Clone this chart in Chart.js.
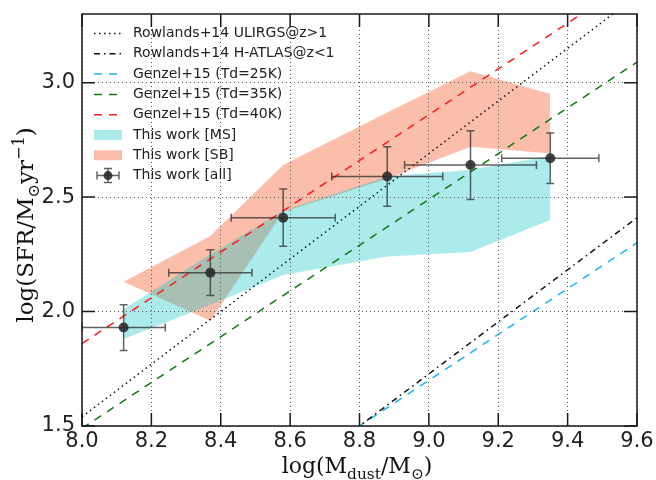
<!DOCTYPE html>
<html>
<head>
<meta charset="utf-8">
<script src="https://cdn.jsdelivr.net/npm/chart.js@4.4.1/dist/chart.umd.min.js"></script>
<style>
  html, body { margin: 0; padding: 0; background: #fff; }
  #wrap { width: 656px; height: 480px; }
</style>
</head>
<body>
<div id="wrap"><canvas id="c" width="656" height="480"></canvas></div>
<script>
// bins in log Mdust, used for the MS / SB bands
const binX    = [8.12, 8.37, 8.58, 8.88, 9.12, 9.35];
const msUpper = [2.01, 2.25, 2.44, 2.59, 2.62, 2.68];
const msLower = [1.88, 2.03, 2.16, 2.24, 2.26, 2.40];
const sbUpper = [2.13, 2.33, 2.64, 2.87, 3.05, 2.95];
const sbLower = [2.13, 1.96, 2.435, 2.58, 2.72, 2.69];

// this work [all] with errors
const allX    = [8.12, 8.37, 8.58, 8.88, 9.12, 9.35];
const allY    = [1.93, 2.17, 2.41, 2.59, 2.64, 2.67];
const allXerr = [0.12, 0.12, 0.15, 0.16, 0.19, 0.14];
const allYerr = [0.10, 0.10, 0.125, 0.13, 0.15, 0.11];

// literature relations, end points
const relX      = [8.0, 9.6];
const ulirgY    = [1.54, 3.38];
const hatlasY   = [0.59, 2.41];
const genzel25Y = [0.70, 2.30];
const genzel35Y = [1.49, 3.09];
const genzel40Y = [1.86, 3.46];

const xTicks = [8.0, 8.2, 8.4, 8.6, 8.8, 9.0, 9.2, 9.4, 9.6];
const yTicks = [1.5, 2.0, 2.5, 3.0];

const MS_FILL = 'rgba(0,195,195,0.33)';
const SB_FILL = 'rgba(240,58,0,0.33)';
const NONE = 'rgba(0,0,0,0)';

function pts(xs, ys) { return xs.map((x, i) => ({ x: x, y: ys[i] })); }

function band(label, ys, fill, color) {
  return { label: label, data: pts(binX, ys), fill: fill, backgroundColor: color,
           borderColor: NONE, borderWidth: 1, pointRadius: 0, tension: 0, order: 10 };
}
function rel(label, ys, color, dash) {
  return { label: label, data: pts(relX, ys), fill: false, borderColor: color,
           borderWidth: 1.5, borderDash: dash, pointRadius: 0, order: 5 };
}

const datasets = [
  band('MS upper', msUpper, '+1', MS_FILL),
  band('MS lower', msLower, false, NONE),
  band('SB upper', sbUpper, '+1', SB_FILL),
  band('SB lower', sbLower, false, NONE),
  rel('Rowlands+14 ULIRGS@z>1', ulirgY, '#111', [1.5, 3.5]),
  rel('Rowlands+14 H-ATLAS@z<1', hatlasY, '#111', [6, 4, 1.5, 4]),
  rel('Genzel+15 (Td=25K)', genzel25Y, '#19b5ee', [8, 7]),
  rel('Genzel+15 (Td=35K)', genzel35Y, '#0b7d0b', [8, 7]),
  rel('Genzel+15 (Td=40K)', genzel40Y, '#ff1a1a', [8, 7]),
  { label: 'This work [all]', type: 'scatter', data: pts(allX, allY), xErr: allXerr, yErr: allYerr,
    showLine: false, pointRadius: 5, pointBackgroundColor: 'rgba(35,35,35,0.85)',
    pointBorderWidth: 0, order: 0 }
];

const ERR_COLOR = 'rgba(45,45,45,0.75)';

const errorBars = {
  id: 'errorBars',
  afterDatasetsDraw(chart) {
    const ctx = chart.ctx, xs = chart.scales.x, ys = chart.scales.y;
    chart.data.datasets.forEach(ds => {
      if (!ds.xErr) return;
      ctx.save();
      ctx.strokeStyle = ERR_COLOR;
      ctx.lineWidth = 1.5;
      ds.data.forEach((p, i) => {
        const x0 = xs.getPixelForValue(p.x - ds.xErr[i]), x1 = xs.getPixelForValue(p.x + ds.xErr[i]);
        const y0 = ys.getPixelForValue(p.y - ds.yErr[i]), y1 = ys.getPixelForValue(p.y + ds.yErr[i]);
        const px = xs.getPixelForValue(p.x), py = ys.getPixelForValue(p.y);
        ctx.beginPath();
        ctx.moveTo(x0, py); ctx.lineTo(x1, py);
        ctx.moveTo(px, y0); ctx.lineTo(px, y1);
        ctx.moveTo(x0, py - 4); ctx.lineTo(x0, py + 4);
        ctx.moveTo(x1, py - 4); ctx.lineTo(x1, py + 4);
        ctx.moveTo(px - 4, y0); ctx.lineTo(px + 4, y0);
        ctx.moveTo(px - 4, y1); ctx.lineTo(px + 4, y1);
        ctx.stroke();
      });
      ctx.restore();
    });
  }
};

// text with sub/superscripts, drawn centred on (0,0) baseline
function mathText(ctx, parts, size) {
  const fam = '"DejaVu Serif", serif';
  let total = 0;
  parts.forEach(p => {
    ctx.font = (p.s ? size * 0.7 : size) + 'px ' + fam;
    p.w = ctx.measureText(p.t).width;
    total += p.w;
  });
  let x = -total / 2;
  parts.forEach(p => {
    ctx.font = (p.s ? size * 0.7 : size) + 'px ' + fam;
    const dy = p.s === 'sub' ? size * 0.25 : p.s === 'sup' ? -size * 0.4 : 0;
    ctx.fillText(p.t, x, dy);
    x += p.w;
  });
}

const frame = {
  id: 'frame',
  afterDraw(chart) {
    const ctx = chart.ctx, a = chart.chartArea, xs = chart.scales.x, ys = chart.scales.y;
    ctx.save();
    ctx.strokeStyle = '#1a1a1a';
    ctx.lineWidth = 1.5;
    ctx.strokeRect(a.left, a.top, a.right - a.left, a.bottom - a.top);
    ctx.beginPath();
    xTicks.forEach(v => {
      const px = xs.getPixelForValue(v);
      ctx.moveTo(px, a.bottom); ctx.lineTo(px, a.bottom - 13);
      ctx.moveTo(px, a.top); ctx.lineTo(px, a.top + 13);
    });
    yTicks.forEach(v => {
      const py = ys.getPixelForValue(v);
      ctx.moveTo(a.left, py); ctx.lineTo(a.left + 13, py);
      ctx.moveTo(a.right, py); ctx.lineTo(a.right - 13, py);
    });
    ctx.stroke();

    // legend
    const lx0 = 94, lx1 = 122, tx = 133, row0 = 33.5, step = 20.3;
    ctx.font = '14px "DejaVu Sans"';
    ctx.textBaseline = 'middle';
    const items = [4, 5, 6, 7, 8, 0, 2, 9];
    const names = ['Rowlands+14 ULIRGS@z>1', 'Rowlands+14 H-ATLAS@z<1', 'Genzel+15 (Td=25K)',
                   'Genzel+15 (Td=35K)', 'Genzel+15 (Td=40K)', 'This work [MS]', 'This work [SB]', 'This work [all]'];
    items.forEach((di, r) => {
      const ds = chart.data.datasets[di];
      const y = row0 + r * step;
      ctx.save();
      if (di === 0 || di === 2) {
        ctx.fillStyle = ds.backgroundColor;
        ctx.fillRect(lx0, y - 5, lx1 - lx0, 10);
      } else if (di === 9) {
        const cx = (lx0 + lx1) / 2;
        ctx.strokeStyle = ERR_COLOR; ctx.lineWidth = 1.5;
        ctx.beginPath();
        ctx.moveTo(lx0 + 3, y); ctx.lineTo(lx1 - 3, y);
        ctx.moveTo(lx0 + 3, y - 4); ctx.lineTo(lx0 + 3, y + 4);
        ctx.moveTo(lx1 - 3, y - 4); ctx.lineTo(lx1 - 3, y + 4);
        ctx.moveTo(cx, y - 7); ctx.lineTo(cx, y + 7);
        ctx.moveTo(cx - 4, y - 7); ctx.lineTo(cx + 4, y - 7);
        ctx.moveTo(cx - 4, y + 7); ctx.lineTo(cx + 4, y + 7);
        ctx.stroke();
        ctx.fillStyle = ds.pointBackgroundColor;
        ctx.beginPath(); ctx.arc(cx, y, 4.5, 0, Math.PI * 2); ctx.fill();
      } else {
        ctx.strokeStyle = ds.borderColor; ctx.lineWidth = ds.borderWidth;
        ctx.setLineDash(ds.borderDash);
        ctx.beginPath(); ctx.moveTo(lx0, y); ctx.lineTo(lx1, y); ctx.stroke();
      }
      ctx.restore();
      ctx.fillStyle = '#222';
      ctx.fillText(names[r], tx, y);
    });

    // axis titles
    ctx.fillStyle = '#111';
    ctx.textBaseline = 'alphabetic';
    ctx.save();
    ctx.translate(357, 473);
    mathText(ctx, [{ t: 'log(M' }, { t: 'dust', s: 'sub' }, { t: '/M' }, { t: '\u2299', s: 'sub' }, { t: ')' }], 22);
    ctx.restore();
    ctx.save();
    ctx.translate(33, 225);
    ctx.rotate(-Math.PI / 2);
    mathText(ctx, [{ t: 'log(SFR/M' }, { t: '\u2299', s: 'sub' }, { t: 'yr' }, { t: '\u22121', s: 'sup' }, { t: ')' }], 23);
    ctx.restore();
    ctx.restore();
  }
};

new Chart(document.getElementById('c'), {
  type: 'line',
  data: { datasets: datasets },
  options: {
    responsive: false,
    animation: false,
    events: [],
    layout: { padding: { top: 14, right: 19, left: 0, bottom: 0 } },
    plugins: { legend: { display: false }, tooltip: { enabled: false } },
    scales: {
      x: {
        type: 'linear', min: 8.0, max: 9.6,
        afterBuildTicks: s => { s.ticks = xTicks.map(v => ({ value: v })); },
        afterFit: s => { s.height = 54; s.paddingLeft = 0; s.paddingRight = 0; },
        grid: { color: '#555', lineWidth: 1, drawTicks: false, z: 1 },
        border: { display: false, dash: [1, 3] },
        ticks: { font: { family: 'DejaVu Sans', size: 21 }, color: '#222', padding: 3,
                 maxRotation: 0, autoSkip: false, callback: v => v.toFixed(1) }
      },
      y: {
        type: 'linear', min: 1.5, max: 3.3,
        afterBuildTicks: s => { s.ticks = yTicks.map(v => ({ value: v })); },
        afterFit: s => { s.width = 82; s.paddingTop = 0; s.paddingBottom = 0; },
        grid: { color: '#555', lineWidth: 1, drawTicks: false, z: 1 },
        border: { display: false, dash: [1, 3] },
        ticks: { font: { family: 'DejaVu Sans', size: 21 }, color: '#222', padding: 7,
                 autoSkip: false, callback: v => v.toFixed(1) }
      }
    }
  },
  plugins: [errorBars, frame]
});
</script>
</body>
</html>
